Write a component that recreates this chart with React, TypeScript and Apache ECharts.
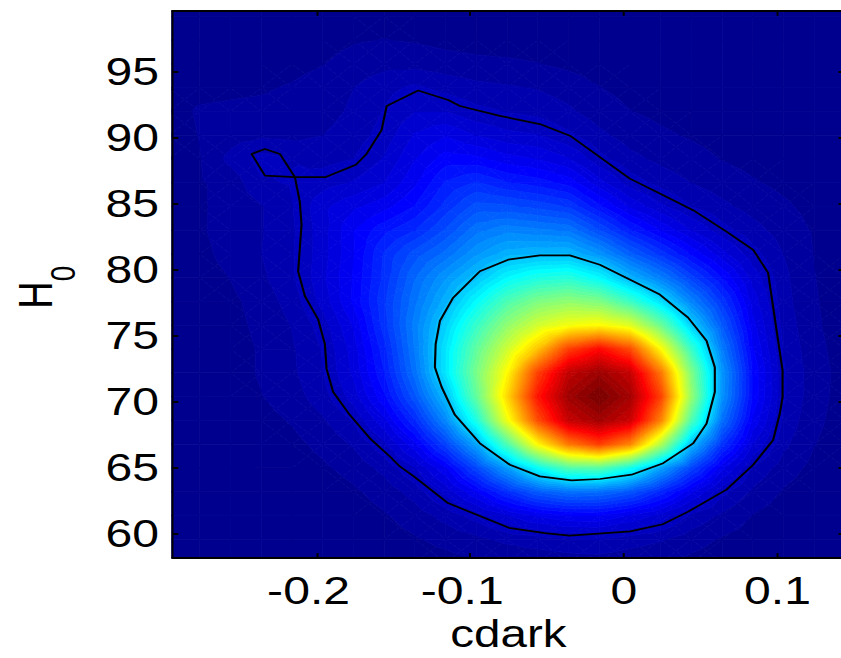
import React, { useEffect, useRef } from "react";
import * as echarts from "echarts";

// Posterior density of (cdark, H0) on a regular grid, normalised to its peak.
const cdarkNodes = [
  -0.296, -0.276, -0.256, -0.236, -0.216, -0.196, -0.176, -0.156, -0.136, -0.116, -0.096, -0.076,
  -0.056, -0.036, -0.016, 0.004, 0.024, 0.044, 0.064, 0.084, 0.104, 0.124, 0.144,
];
const h0Nodes = [
  57.8, 59.6, 61.4, 63.2, 65.0, 66.8, 68.6, 70.4, 72.2, 74.0, 75.8, 77.6, 79.4, 81.2, 83.0, 84.8,
  86.6, 88.4, 90.2, 92.0, 93.8, 95.6, 97.4, 99.2, 101.0,
];
// one row per H0 node, one column per cdark node
const density = [
  [0.001, 0.001, 0.001, 0.001, 0.001, 0.002, 0.003, 0.005, 0.007, 0.010, 0.013, 0.017, 0.019, 0.021, 0.022, 0.019, 0.016, 0.011, 0.007, 0.005, 0.003, 0.001, 0.001],
  [0.001, 0.001, 0.001, 0.001, 0.002, 0.003, 0.005, 0.009, 0.014, 0.020, 0.027, 0.035, 0.040, 0.045, 0.047, 0.039, 0.033, 0.022, 0.014, 0.009, 0.005, 0.003, 0.001],
  [0.001, 0.001, 0.001, 0.002, 0.003, 0.005, 0.008, 0.014, 0.023, 0.037, 0.054, 0.077, 0.097, 0.108, 0.109, 0.092, 0.072, 0.044, 0.028, 0.015, 0.008, 0.004, 0.002],
  [0.000, 0.001, 0.001, 0.002, 0.004, 0.007, 0.013, 0.022, 0.038, 0.067, 0.109, 0.160, 0.204, 0.226, 0.223, 0.199, 0.152, 0.097, 0.052, 0.028, 0.014, 0.007, 0.003],
  [0.001, 0.001, 0.002, 0.004, 0.007, 0.013, 0.021, 0.036, 0.062, 0.107, 0.184, 0.270, 0.370, 0.444, 0.451, 0.383, 0.276, 0.181, 0.098, 0.045, 0.023, 0.011, 0.006],
  [0.001, 0.002, 0.004, 0.006, 0.011, 0.020, 0.033, 0.058, 0.105, 0.179, 0.278, 0.440, 0.620, 0.748, 0.806, 0.735, 0.541, 0.298, 0.165, 0.078, 0.035, 0.016, 0.008],
  [0.002, 0.003, 0.006, 0.010, 0.017, 0.029, 0.048, 0.090, 0.155, 0.249, 0.391, 0.600, 0.792, 0.921, 0.958, 0.916, 0.739, 0.441, 0.226, 0.106, 0.043, 0.019, 0.009],
  [0.003, 0.005, 0.009, 0.015, 0.024, 0.040, 0.070, 0.122, 0.199, 0.300, 0.461, 0.653, 0.848, 0.961, 1.000, 0.956, 0.804, 0.511, 0.259, 0.122, 0.049, 0.021, 0.010],
  [0.004, 0.006, 0.010, 0.017, 0.028, 0.046, 0.081, 0.140, 0.226, 0.343, 0.483, 0.619, 0.805, 0.927, 0.964, 0.922, 0.753, 0.490, 0.263, 0.123, 0.049, 0.022, 0.010],
  [0.004, 0.006, 0.010, 0.017, 0.029, 0.048, 0.085, 0.150, 0.236, 0.342, 0.460, 0.568, 0.676, 0.806, 0.861, 0.795, 0.620, 0.419, 0.237, 0.111, 0.045, 0.020, 0.009],
  [0.004, 0.007, 0.011, 0.019, 0.032, 0.054, 0.095, 0.164, 0.241, 0.322, 0.418, 0.508, 0.572, 0.607, 0.619, 0.586, 0.472, 0.320, 0.203, 0.099, 0.041, 0.018, 0.008],
  [0.005, 0.008, 0.012, 0.022, 0.038, 0.068, 0.112, 0.169, 0.230, 0.291, 0.365, 0.440, 0.489, 0.508, 0.490, 0.424, 0.337, 0.245, 0.167, 0.087, 0.037, 0.017, 0.008],
  [0.005, 0.010, 0.016, 0.028, 0.044, 0.074, 0.111, 0.161, 0.218, 0.264, 0.307, 0.361, 0.391, 0.401, 0.363, 0.292, 0.240, 0.179, 0.125, 0.072, 0.035, 0.016, 0.007],
  [0.007, 0.012, 0.020, 0.031, 0.045, 0.071, 0.108, 0.158, 0.195, 0.224, 0.263, 0.290, 0.297, 0.298, 0.262, 0.210, 0.166, 0.122, 0.084, 0.053, 0.031, 0.015, 0.007],
  [0.009, 0.014, 0.021, 0.030, 0.044, 0.071, 0.109, 0.136, 0.156, 0.190, 0.229, 0.245, 0.238, 0.232, 0.189, 0.143, 0.108, 0.078, 0.053, 0.037, 0.024, 0.014, 0.007],
  [0.010, 0.014, 0.020, 0.030, 0.046, 0.074, 0.090, 0.103, 0.126, 0.162, 0.194, 0.191, 0.182, 0.170, 0.129, 0.091, 0.066, 0.047, 0.035, 0.025, 0.018, 0.011, 0.007],
  [0.009, 0.014, 0.021, 0.045, 0.048, 0.056, 0.064, 0.078, 0.106, 0.143, 0.158, 0.142, 0.133, 0.119, 0.084, 0.055, 0.041, 0.031, 0.023, 0.017, 0.012, 0.008, 0.005],
  [0.010, 0.015, 0.036, 0.053, 0.046, 0.041, 0.047, 0.064, 0.093, 0.117, 0.114, 0.100, 0.093, 0.079, 0.052, 0.036, 0.027, 0.021, 0.015, 0.011, 0.008, 0.006, 0.004],
  [0.010, 0.016, 0.024, 0.028, 0.027, 0.031, 0.039, 0.053, 0.080, 0.092, 0.077, 0.067, 0.063, 0.050, 0.035, 0.024, 0.018, 0.014, 0.010, 0.007, 0.005, 0.004, 0.003],
  [0.011, 0.017, 0.018, 0.019, 0.021, 0.025, 0.034, 0.048, 0.062, 0.062, 0.051, 0.046, 0.042, 0.034, 0.023, 0.016, 0.012, 0.009, 0.007, 0.005, 0.004, 0.003, 0.002],
  [0.012, 0.012, 0.013, 0.014, 0.017, 0.022, 0.031, 0.042, 0.050, 0.042, 0.036, 0.033, 0.030, 0.024, 0.016, 0.011, 0.008, 0.006, 0.004, 0.003, 0.003, 0.002, 0.001],
  [0.006, 0.006, 0.007, 0.008, 0.011, 0.015, 0.022, 0.026, 0.026, 0.022, 0.019, 0.018, 0.016, 0.012, 0.008, 0.005, 0.004, 0.003, 0.002, 0.002, 0.001, 0.001, 0.001],
  [0.003, 0.004, 0.004, 0.005, 0.007, 0.010, 0.014, 0.016, 0.014, 0.011, 0.010, 0.009, 0.008, 0.006, 0.004, 0.003, 0.002, 0.002, 0.001, 0.001, 0.001, 0.001, 0.001],
  [0.002, 0.002, 0.003, 0.003, 0.004, 0.006, 0.008, 0.009, 0.008, 0.007, 0.006, 0.005, 0.004, 0.003, 0.002, 0.001, 0.001, 0.001, 0.001, 0.001, 0.001, 0.001, 0.001],
  [0.001, 0.001, 0.001, 0.002, 0.003, 0.004, 0.005, 0.006, 0.005, 0.004, 0.003, 0.003, 0.002, 0.002, 0.001, 0.001, 0.001, 0.001, 0.001, 0.001, 0.001, 0.001, 0.001],
];

// 68% credible region boundary, [cdark, H0]
const contour68 = [
  [-0.1225, 74.38], [-0.123, 72.63], [-0.1186, 71.12], [-0.11, 69.02], [-0.0937, 66.86],
  [-0.0742, 65.24], [-0.0547, 64.36], [-0.034, 64.06], [-0.0156, 64.16], [0.005, 64.49],
  [0.0256, 65.36], [0.0451, 66.86], [0.0538, 68.36], [0.0592, 70.75], [0.0592, 72.63],
  [0.0538, 74.63], [0.0418, 76.38], [0.0234, 78.13], [0.0061, 79.14], [-0.0156, 80.39],
  [-0.0351, 81.1], [-0.0547, 81.1], [-0.0753, 80.77], [-0.0937, 79.89], [-0.1111, 77.89],
  [-0.1197, 76.14],
];

// 95% credible region boundary, [cdark, H0]
const contour95 = [
  [-0.1458, 65.11], [-0.1523, 65.86], [-0.1653, 67.24], [-0.1783, 69.0], [-0.1892, 70.75],
  [-0.1935, 72.5], [-0.1946, 74.38], [-0.199, 76.26], [-0.2076, 78.01], [-0.212, 79.89],
  [-0.2109, 81.64], [-0.2098, 83.4], [-0.2109, 85.15], [-0.2141, 87.03], [-0.2239, 88.78],
  [-0.2336, 89.16], [-0.2423, 88.78], [-0.2336, 87.13], [-0.2141, 87.03], [-0.194, 87.03],
  [-0.1744, 87.96], [-0.1675, 88.78], [-0.1577, 90.59], [-0.1544, 92.41], [-0.1339, 93.59],
  [-0.1143, 92.86], [-0.1067, 92.41], [-0.0807, 91.66], [-0.0547, 91.04], [-0.0351, 90.16],
  [-0.0156, 88.54], [0.0039, 86.91], [0.0234, 85.78], [0.0451, 84.52], [0.0668, 82.9],
  [0.0842, 81.52], [0.0939, 79.77], [0.0972, 77.14], [0.1004, 74.63], [0.1033, 72.38],
  [0.1033, 70.37], [0.1015, 69.12], [0.0972, 67.12], [0.0842, 65.24], [0.0668, 63.36],
  [0.0416, 61.67], [0.0253, 60.73], [0.0043, 60.19], [-0.0353, 59.87], [-0.0515, 60.06],
  [-0.0748, 60.46], [-0.1145, 62.34], [-0.1367, 64.36],
];

const cdarkTicks = [-0.2, -0.1, 0, 0.1];
const h0Ticks = [60, 65, 70, 75, 80, 85, 90, 95];
const cdarkRange = [-0.2939, 0.1436];
const h0Range = [58.17, 99.62];

// the figure is drawn narrow and widened horizontally as a whole
const STRETCH = 1.25;
const FONT = '"Liberation Sans", Arial, Helvetica, sans-serif';

// MATLAB-style jet colormap with 64 entries
function jetColor(idx: number): string {
  let r = 0, g = 0, b = 0;
  if (idx <= 24) r = 0;
  else if (idx <= 39) r = (idx - 24) / 16;
  else if (idx <= 56) r = 1;
  else r = 1 - (idx - 56) / 16;
  if (idx <= 8) g = 0;
  else if (idx <= 23) g = (idx - 8) / 16;
  else if (idx <= 40) g = 1;
  else if (idx <= 55) g = 1 - (idx - 40) / 16;
  else g = 0;
  if (idx <= 8) b = (8 + idx) / 16;
  else if (idx <= 24) b = 1;
  else if (idx <= 39) b = 1 - (idx - 24) / 16;
  else b = 0;
  return `rgb(${Math.round(r * 255)},${Math.round(g * 255)},${Math.round(b * 255)})`;
}
const LEVELS = 64;
const palette = Array.from({ length: LEVELS }, (_, k) => jetColor(k + 1));
const bandOf = (v: number) => Math.min(LEVELS - 1, Math.max(0, Math.floor(v * LEVELS)));

type P = [number, number, number];

// keep the part of a polygon above (or below) a level of the linearly varying value
function clipLevel(poly: P[], t: number, keepAbove: boolean): P[] {
  const out: P[] = [];
  const n = poly.length;
  for (let k = 0; k < n; k++) {
    const a = poly[k];
    const b = poly[(k + 1) % n];
    const ina = keepAbove ? a[2] >= t : a[2] <= t;
    const inb = keepAbove ? b[2] >= t : b[2] <= t;
    if (ina) out.push(a);
    if (ina !== inb) {
      const f = (t - a[2]) / (b[2] - a[2]);
      out.push([a[0] + f * (b[0] - a[0]), a[1] + f * (b[1] - a[1]), t]);
    }
  }
  return out;
}

function polygonEl(points: number[][], k: number) {
  return {
    type: "polygon",
    silent: true,
    shape: { points },
    style: { fill: palette[k], stroke: palette[k], lineWidth: 0.7 },
  };
}

function filledBands(tri: P[], out: any[]) {
  const vs = tri.map((p) => p[2]);
  const kmin = bandOf(Math.min(...vs));
  const kmax = bandOf(Math.max(...vs));
  for (let k = kmin; k <= kmax; k++) {
    let poly = tri;
    if (k > kmin) poly = clipLevel(poly, k / LEVELS, true);
    if (k < kmax && poly.length >= 3) poly = clipLevel(poly, (k + 1) / LEVELS, false);
    if (poly.length < 3) continue;
    out.push(polygonEl(poly.map((p) => [p[0], p[1]]), k));
  }
}

const cells: number[][] = [];
for (let j = 0; j < h0Nodes.length - 1; j++) {
  for (let i = 0; i < cdarkNodes.length - 1; i++) {
    cells.push([(cdarkNodes[i] + cdarkNodes[i + 1]) / 2, (h0Nodes[j] + h0Nodes[j + 1]) / 2, i, j]);
  }
}

function renderCell(_params: any, api: any) {
  const i = api.value(2) as number;
  const j = api.value(3) as number;
  const x0 = cdarkNodes[i], x1 = cdarkNodes[i + 1];
  const y0 = h0Nodes[j], y1 = h0Nodes[j + 1];
  const v00 = density[j][i], v10 = density[j][i + 1];
  const v01 = density[j + 1][i], v11 = density[j + 1][i + 1];
  const c00 = api.coord([x0, y0]), c10 = api.coord([x1, y0]);
  const c01 = api.coord([x0, y1]), c11 = api.coord([x1, y1]);
  const children: any[] = [];
  const kmin = bandOf(Math.min(v00, v10, v01, v11));
  const kmax = bandOf(Math.max(v00, v10, v01, v11));
  if (kmin === kmax) {
    children.push(polygonEl([c00, c10, c11, c01], kmin));
  } else {
    const cc = api.coord([(x0 + x1) / 2, (y0 + y1) / 2]);
    const vc = (v00 + v10 + v01 + v11) / 4;
    const p00: P = [c00[0], c00[1], v00];
    const p10: P = [c10[0], c10[1], v10];
    const p11: P = [c11[0], c11[1], v11];
    const p01: P = [c01[0], c01[1], v01];
    const pc: P = [cc[0], cc[1], vc];
    filledBands([p00, p10, pc], children);
    filledBands([p10, p11, pc], children);
    filledBands([p11, p01, pc], children);
    filledBands([p01, p00, pc], children);
  }
  return { type: "group", children };
}

const closed = (pts: number[][]) => [...pts, pts[0]];

// negative labels keep their digits centred on the tick, the sign hangs to the left
const xTickLabel = (v: number) => (v === 0 ? "0" : v < 0 ? `-${Math.abs(v)}{pad|}` : String(v));
const yTickLabel = (v: number) => String(v);

function buildOption(): any {
  const gridLeft = 172.3 / STRETCH;
  const gridWidth = (844.5 - 172.3) / STRETCH;
  const xBase = {
    type: "value",
    min: cdarkRange[0],
    max: cdarkRange[1],
    z: 10,
    splitLine: { show: false },
    axisLine: { onZero: false, lineStyle: { color: "#000", width: 2 } },
    axisTick: {
      inside: true,
      length: 5,
      customValues: cdarkTicks,
      lineStyle: { color: "#000", width: 1.6 },
    },
  };
  const yBase = {
    type: "value",
    min: h0Range[0],
    max: h0Range[1],
    z: 10,
    splitLine: { show: false },
    axisLine: { onZero: false, lineStyle: { color: "#000", width: 1.6 } },
    axisTick: {
      inside: true,
      length: 4.8,
      customValues: h0Ticks,
      lineStyle: { color: "#000", width: 2 },
    },
  };
  return {
    animation: false,
    backgroundColor: "#fff",
    grid: { left: gridLeft, top: 10.8, width: gridWidth, height: 551.5, containLabel: false },
    xAxis: [
      {
        ...xBase,
        position: "bottom",
        axisLabel: {
          customValues: cdarkTicks,
          formatter: xTickLabel,
          color: "#000",
          fontSize: 38.5,
          fontFamily: FONT,
          margin: 13,
          rich: { pad: { width: 12.8 } },
        },
        name: "cdark",
        nameLocation: "middle",
        nameGap: 52.8,
        nameTextStyle: { color: "#000", fontSize: 38, fontFamily: FONT },
      },
      { ...xBase, position: "top", axisLabel: { show: false } },
    ],
    yAxis: [
      {
        ...yBase,
        position: "left",
        axisLabel: {
          customValues: h0Ticks,
          formatter: yTickLabel,
          color: "#000",
          fontSize: 38.5,
          fontFamily: FONT,
          margin: 10.6,
          padding: [5.4, 0, 0, 0],
        },
      },
      { ...yBase, position: "right", axisLabel: { show: false } },
    ],
    graphic: [
      {
        type: "text",
        x: 28,
        y: 295,
        rotation: Math.PI / 2,
        silent: true,
        style: {
          text: "H",
          fill: "#000",
          fontSize: 38,
          fontFamily: FONT,
          align: "center",
          verticalAlign: "middle",
          textAlign: "center",
          textVerticalAlign: "middle",
        },
      },
      {
        type: "text",
        x: 50.5,
        y: 273.5,
        rotation: Math.PI / 2,
        silent: true,
        style: {
          text: "0",
          fill: "#000",
          fontSize: 28,
          fontFamily: FONT,
          align: "center",
          verticalAlign: "middle",
          textAlign: "center",
          textVerticalAlign: "middle",
        },
      },
    ],
    series: [
      {
        type: "custom",
        name: "density",
        xAxisIndex: 0,
        yAxisIndex: 0,
        clip: true,
        silent: true,
        z: 1,
        encode: { x: 0, y: 1 },
        renderItem: renderCell,
        data: cells,
      },
      {
        type: "line",
        name: "95%",
        xAxisIndex: 0,
        yAxisIndex: 0,
        data: closed(contour95),
        symbol: "none",
        silent: true,
        z: 3,
        lineStyle: { color: "#000", width: 1.7 },
      },
      {
        type: "line",
        name: "68%",
        xAxisIndex: 0,
        yAxisIndex: 0,
        data: closed(contour68),
        symbol: "none",
        silent: true,
        z: 3,
        lineStyle: { color: "#000", width: 1.7 },
      },
    ],
  };
}

export default function App() {
  const ref = useRef<HTMLDivElement>(null);
  useEffect(() => {
    if (!ref.current) return;
    const chart = echarts.init(ref.current, undefined, { renderer: "svg" });
    chart.setOption(buildOption());
    return () => {
      chart.dispose();
    };
  }, []);
  return (
    <div
      style={{
        position: "fixed",
        left: 0,
        top: 0,
        width: 841,
        height: 658,
        overflow: "hidden",
        background: "#fff",
      }}
    >
      <div
        ref={ref}
        style={{
          width: 700,
          height: 658,
          transform: `scaleX(${STRETCH})`,
          transformOrigin: "0 0",
        }}
      />
    </div>
  );
}
